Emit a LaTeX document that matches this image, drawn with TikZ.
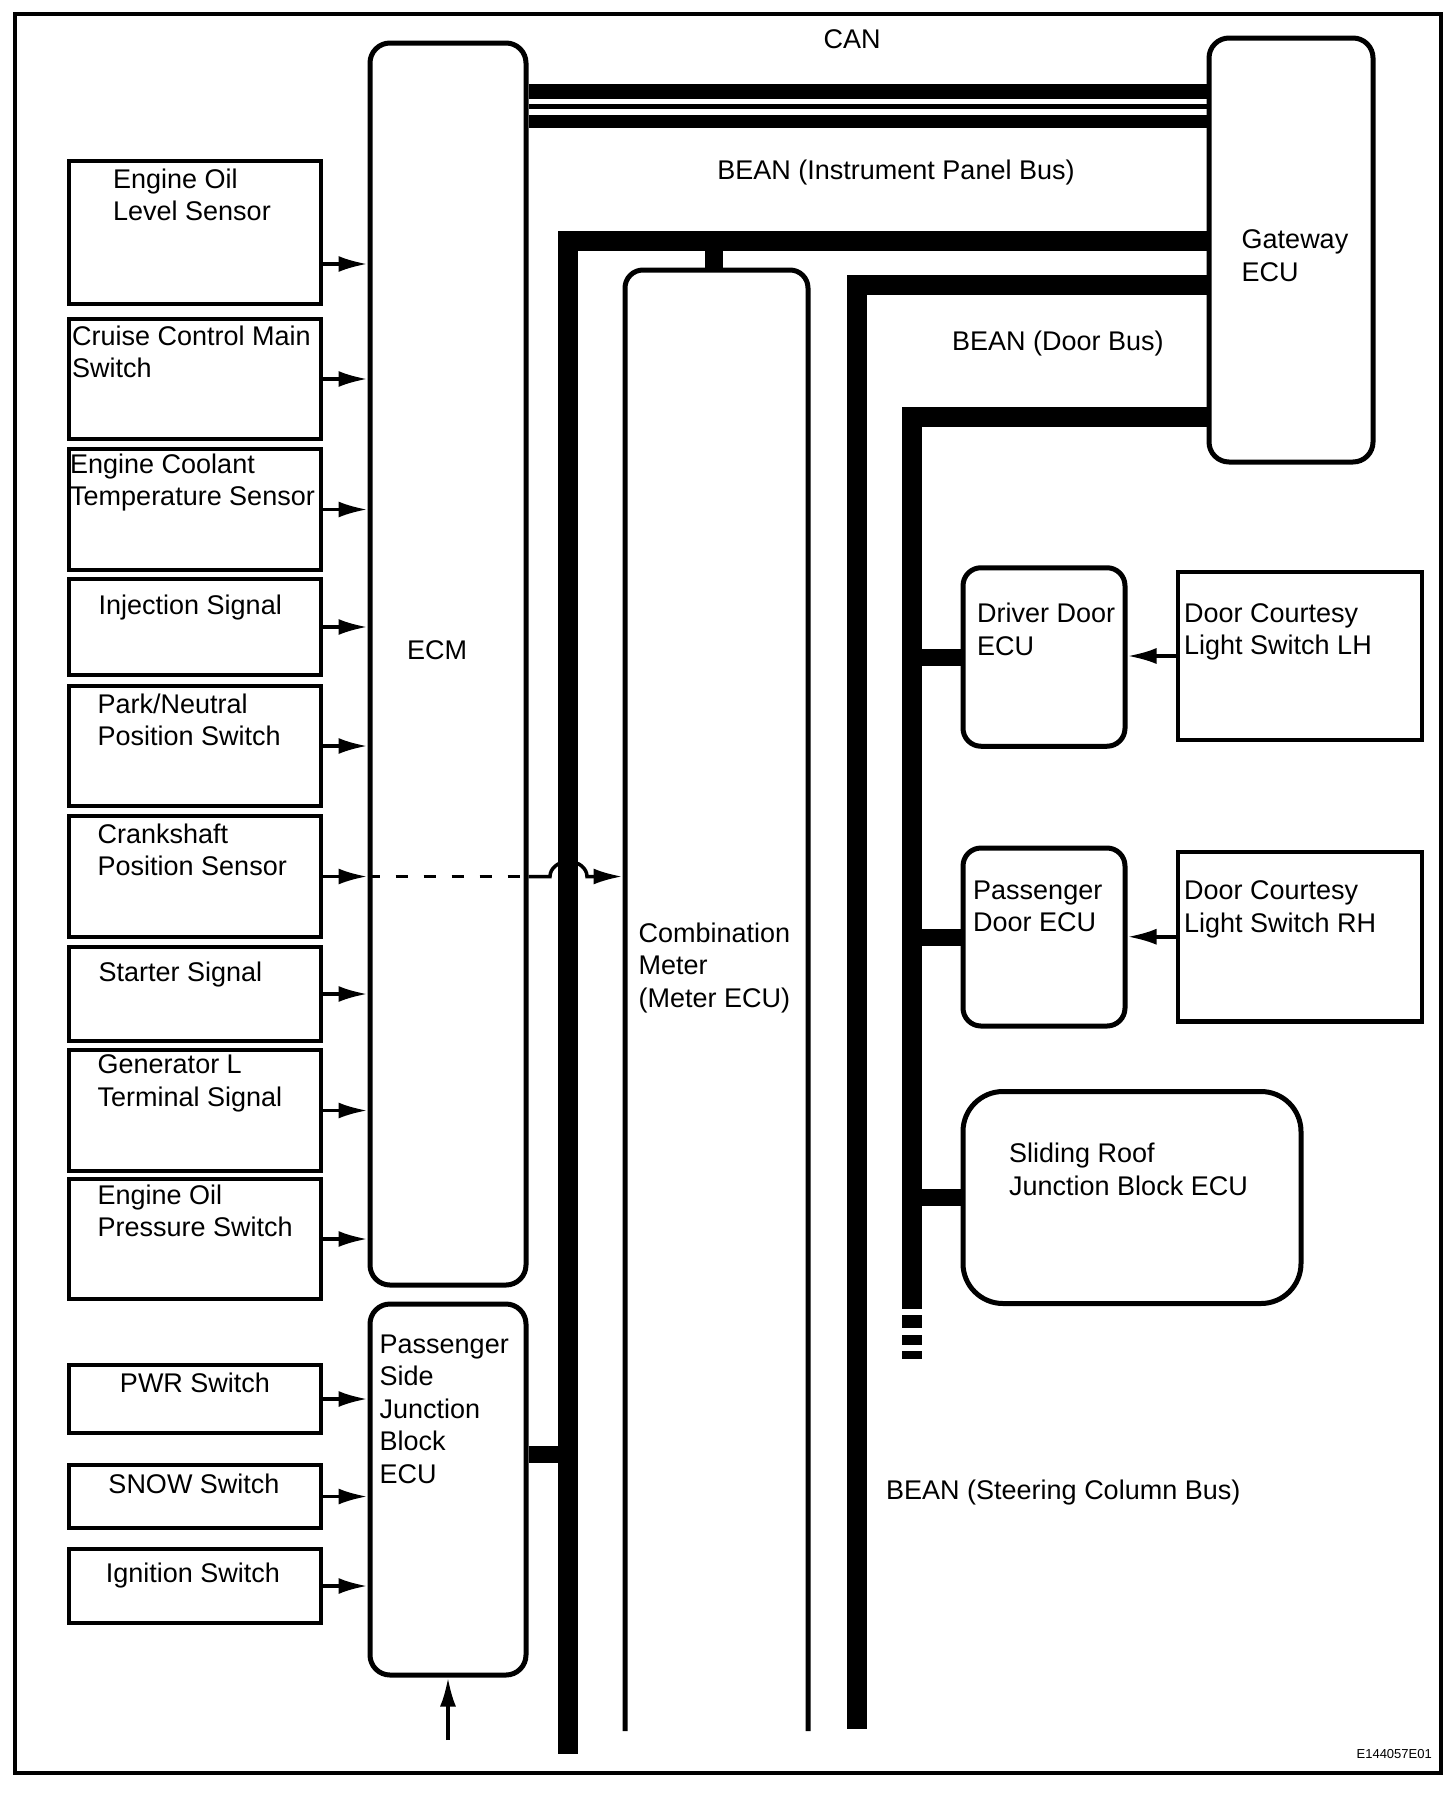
\documentclass[tikz,border=0pt]{standalone}
\usepackage{fontspec}
\setmainfont{Liberation Sans}
\usetikzlibrary{arrows.meta}
\tikzset{>={Latex[length=29pt,width=16pt]}}

\begin{document}
\begin{tikzpicture}[x=1pt,y=1pt,
                    sensor/.style={draw, line width=4.5pt, inner sep=0pt, minimum width=252pt},
                    ecu/.style={draw, line width=5pt, rounded corners=20pt, inner sep=0pt},
                    lbl/.style={anchor=north west, inner sep=0pt, align=left, yshift=2.5pt,
                                font=\fontsize{27}{32.5}\selectfont},
                    clbl/.style={lbl, anchor=north, align=center},
                    sig/.style={line width=3.5pt, ->},
                    bus/.style={line width=20pt},
                    stub/.style={line width=17pt},
                   ]

\useasboundingbox (0,0) rectangle (1456,-1794);
\draw[line width=3.5pt] (15,-14) rectangle (1441,-1773);

% input boxes on the left
\node[sensor, minimum height=143pt] (eol)  at (195,-232.5) {};
\node[sensor, minimum height=120pt] (ccm)  at (195,-379) {};
\node[sensor, minimum height=121pt] (ect)  at (195,-509.5) {};
\node[sensor, minimum height=96pt]  (inj)  at (195,-627) {};
\node[sensor, minimum height=120pt] (pnp)  at (195,-746) {};
\node[sensor, minimum height=121pt] (cks)  at (195,-876.5) {};
\node[sensor, minimum height=94pt]  (sta)  at (195,-994) {};
\node[sensor, minimum height=121pt] (gen)  at (195,-1110.5) {};
\node[sensor, minimum height=120pt] (eop)  at (195,-1239) {};
\node[sensor, minimum height=68pt]  (pwr)  at (195,-1399) {};
\node[sensor, minimum height=63pt]  (snow) at (195,-1496.5) {};
\node[sensor, minimum height=74pt]  (ign)  at (195,-1586) {};

\node[lbl] (eol-t)  at (113,-171)    {Engine Oil\\Level Sensor};
\node[lbl] (ccm-t)  at (72,-328)     {Cruise Control Main\\Switch};
\node[lbl] (ect-t)  at (70,-456)     {Engine Coolant\\Temperature Sensor};
\node[lbl] (inj-t)  at (98.5,-597.5) {Injection Signal};
\node[lbl] (pnp-t)  at (97.5,-696)   {Park/Neutral\\Position Switch};
\node[lbl] (cks-t)  at (97.5,-826)   {Crankshaft\\Position Sensor};
\node[lbl] (sta-t)  at (98.5,-964)   {Starter Signal};
\node[lbl] (gen-t)  at (97.5,-1057)  {Generator L\\Terminal Signal};
\node[lbl] (eop-t)  at (97.5,-1187)  {Engine Oil\\Pressure Switch};
\node[clbl] (pwr-t)  at (195,-1375)  {PWR Switch};
\node[clbl] (snow-t) at (194,-1476)  {SNOW Switch};
\node[clbl] (ign-t)  at (193,-1565)  {Ignition Switch};

% ECUs
\node[ecu, minimum width=156pt, minimum height=1242pt] (ecm)  at (448,-664) {};
\node[ecu, minimum width=156pt, minimum height=371pt]  (psjb) at (448,-1489.5) {};
\node[ecu, minimum width=164pt, minimum height=424pt]  (gw)   at (1291,-250) {};
\node[ecu, rounded corners=18pt, minimum width=162pt, minimum height=178.5pt] (drv) at (1044,-657) {};
\node[ecu, rounded corners=18pt, minimum width=162pt, minimum height=178pt]   (pas) at (1044,-937) {};
\node[ecu, rounded corners=40pt, minimum width=338pt, minimum height=212pt]   (roof) at (1132,-1197.5) {};
\node[sensor, minimum width=244pt, minimum height=168pt]   (lhsw) at (1300,-656) {};
\node[sensor, minimum width=244pt, minimum height=169.5pt] (rhsw) at (1300,-936.75) {};
\node[inner sep=0pt, outer sep=0pt, minimum width=183pt, minimum height=1461pt] (meter) at (716.5,-1000.5) {};
\draw[line width=5pt, rounded corners=18pt] (meter.south west) -- (meter.north west) -- (meter.north east) -- (meter.south east);

\node[lbl] (ecm-t)   at (407,-643)     {ECM};
\node[lbl] (psjb-t)  at (379.5,-1337)  {Passenger\\Side\\Junction\\Block\\ECU};
\node[lbl] (meter-t) at (638.5,-925)   {Combination\\Meter\\(Meter ECU)};
\node[lbl] (gw-t)    at (1241.5,-232)  {Gateway\\ECU};
\node[lbl] (drv-t)   at (977,-605.5)   {Driver Door\\ECU};
\node[lbl] (pas-t)   at (973,-883)     {Passenger\\Door ECU};
\node[lbl] (roof-t)  at (1009,-1145.5) {Sliding Roof\\Junction Block ECU};
\node[lbl] (lhsw-t)  at (1184,-605.5)  {Door Courtesy\\Light Switch LH};
\node[lbl] (rhsw-t)  at (1184,-883)    {Door Courtesy\\Light Switch RH};

% bus labels
\node[clbl] (can-t)  at (852,-32)   {CAN};
\node[clbl] (ip-t)   at (896,-162)  {BEAN (Instrument Panel Bus)};
\node[lbl]  (door-t) at (952,-333)  {BEAN (Door Bus)};
\node[lbl]  (col-t)  at (886,-1482) {BEAN (Steering Column Bus)};
\node[anchor=east, inner sep=0pt, font=\fontsize{13}{15}\selectfont] (code) at (1432,-1754) {E144057E01};

% signal lines
\draw[sig] (eol.east |- 0,-264) -- (ecm.west |- 0,-264);
\draw[sig] (ccm.east) -- (ecm.west |- ccm.east);
\draw[sig] (ect.east) -- (ecm.west |- ect.east);
\draw[sig] (inj.east) -- (ecm.west |- inj.east);
\draw[sig] (pnp.east) -- (ecm.west |- pnp.east);
\draw[sig] (cks.east) -- (ecm.west |- cks.east);
\draw[sig] (sta.east) -- (ecm.west |- sta.east);
\draw[sig] (gen.east) -- (ecm.west |- gen.east);
\draw[sig] (eop.east) -- (ecm.west |- eop.east);
\draw[sig] (pwr.east) -- (psjb.west |- pwr.east);
\draw[sig] (snow.east) -- (psjb.west |- snow.east);
\draw[sig] (ign.east) -- (psjb.west |- ign.east);
\coordinate (pin) at (448,-1740);
\draw[sig] (pin) -- (psjb.south);
\draw[sig] (lhsw.west) -- (drv.east |- lhsw.west);
\draw[sig] (rhsw.west) -- (pas.east |- rhsw.west);

% crankshaft signal through ECM to meter
\draw[line width=3.5pt, dash pattern=on 12pt off 16pt] (ecm.west |- cks.east) -- (ecm.east |- cks.east);
\draw[sig] (ecm.east |- cks.east) -- (550,-876.5)
     arc[start angle=180, end angle=0, x radius=18.5, y radius=15]
     -- ([xshift=-2.5pt]meter.west |- cks.east);

% CAN
\draw[line width=15pt]   (ecm.east |- 0,-91.5)  -- (gw.west |- 0,-91.5);
\draw[line width=5.3pt]  (ecm.east |- 0,-106.7) -- (gw.west |- 0,-106.7);
\draw[line width=13.3pt] (ecm.east |- 0,-121.7) -- (gw.west |- 0,-121.7);

% BEAN buses
\coordinate (ipc) at (568,-240.7);
\coordinate (dbc) at (857,-285);
\coordinate (sbc) at (912,-417);
\draw[bus] (gw.west |- ipc) -- (ipc) -- (568,-1754);
\draw[bus] (gw.west |- dbc) -- (dbc) -- (857,-1729);
\draw[bus] (gw.west |- sbc) -- (sbc) -- (912,-1309);
\foreach \a/\b in {1315/1328, 1335/1345, 1351/1359}
  \fill (902,-\a) rectangle (922,-\b);

\draw[line width=18pt] (ipc -| 714,0) -- (meter.north -| 714,0);
\draw[stub] (psjb.east |- 0,-1454) -- (ipc |- 0,-1454);
\draw[stub] (sbc |- drv.west) -- (drv.west);
\draw[stub] (sbc |- pas.west) -- (pas.west);
\draw[stub] (sbc |- roof.west) -- (roof.west);

\end{tikzpicture}
\end{document}
